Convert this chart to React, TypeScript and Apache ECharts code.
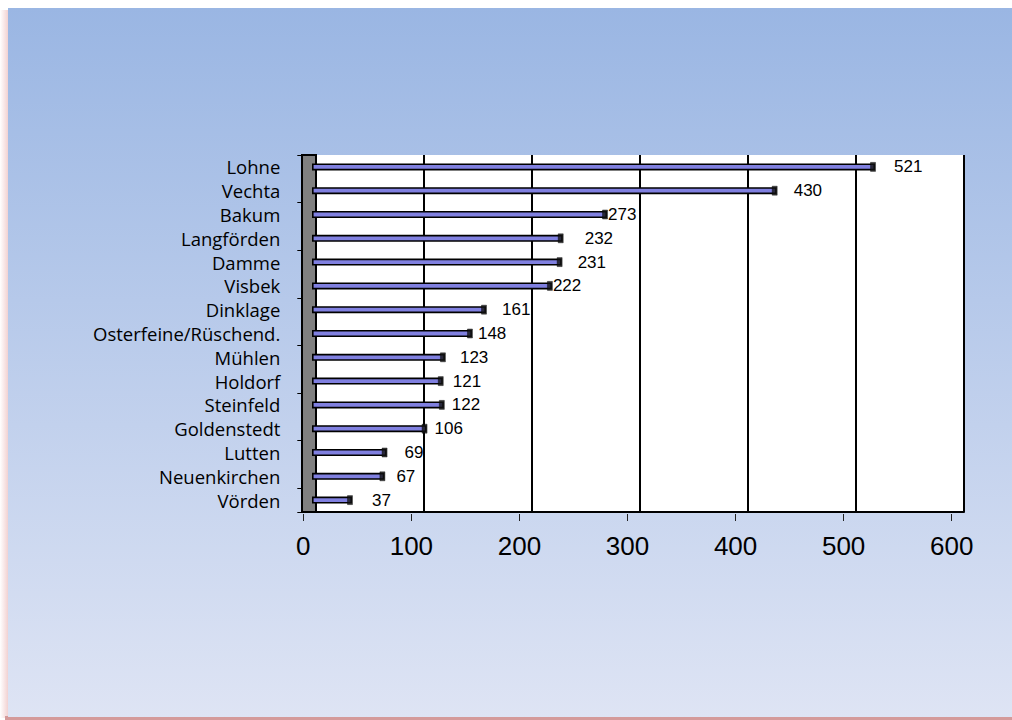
import React, { useEffect, useRef } from "react";
import * as echarts from "echarts";

const categories = [
  "Lohne",
  "Vechta",
  "Bakum",
  "Langförden",
  "Damme",
  "Visbek",
  "Dinklage",
  "Osterfeine/Rüschend.",
  "Mühlen",
  "Holdorf",
  "Steinfeld",
  "Goldenstedt",
  "Lutten",
  "Neuenkirchen",
  "Vörden",
];
const values = [521, 430, 273, 232, 231, 222, 161, 148, 123, 121, 122, 106, 69, 67, 37];
const labelGaps = [19, 17, 1, 22, 16, 1, 16, 6, 15, 10, 8, 8, 18, 12, 20];
const axisMin = 0;
const axisMax = 600;
const axisInterval = 100;

export default function App() {
  const ref = useRef<HTMLDivElement>(null);

  useEffect(() => {
    document.body.style.margin = "0";
    if (!ref.current) return;
    const chart = echarts.init(ref.current, undefined, { renderer: "svg" });

    const valueAxisBase = {
      type: "value" as const,
      min: axisMin,
      max: axisMax,
      interval: axisInterval,
    };

    chart.setOption({
      animation: false,
      backgroundColor: "transparent",
      grid: [
        { left: 316, top: 155, width: 648, height: 357, show: true, backgroundColor: "#ffffff", borderWidth: 0 },
        { left: 312, top: 155, width: 648.4, height: 357 },
        { left: 303.3, top: 155, width: 648.4, height: 357 },
      ],
      xAxis: [
        {
          ...valueAxisBase,
          gridIndex: 0,
          axisLabel: { show: false },
          axisTick: { show: false },
          axisLine: { show: true, lineStyle: { color: "#000", width: 2 } },
          splitLine: { show: true, lineStyle: { color: "#000", width: 2 } },
        },
        {
          ...valueAxisBase,
          gridIndex: 1,
          show: false,
          splitLine: { show: false },
        },
        {
          ...valueAxisBase,
          gridIndex: 2,
          offset: 2,
          axisLine: { show: false },
          axisTick: { show: true, length: 7, lineStyle: { color: "#222", width: 1 } },
          splitLine: { show: false },
          axisLabel: {
            show: true,
            margin: 19,
            fontSize: 26,
            fontFamily: "Liberation Sans",
            color: "#000",
          },
        },
      ],
      yAxis: [
        { type: "category", gridIndex: 0, data: categories, inverse: true, show: false },
        { type: "category", gridIndex: 1, data: categories, inverse: true, show: false },
        {
          type: "category",
          gridIndex: 2,
          data: categories,
          inverse: true,
          axisLine: { show: false },
          axisTick: { show: true, interval: 1, length: 6, lineStyle: { color: "#000", width: 1 } },
          axisLabel: {
            interval: 0,
            margin: 23,
            fontSize: 18.5,
            fontFamily: "Open Sans",
            color: "#000",
          },
        },
      ],
      graphic: [
        {
          type: "rect",
          z: 1,
          shape: { x: 302, y: 155, width: 14, height: 357 },
          style: { fill: "#808080", stroke: "#000", lineWidth: 2 },
        },
      ],
      series: [
        {
          type: "bar",
          xAxisIndex: 1,
          yAxisIndex: 1,
          barWidth: 7,
          z: 3,
          itemStyle: { color: "#8080e0", borderColor: "#000", borderWidth: 1.6 },
          label: {
            show: true,
            position: "right",
            fontSize: 17,
            fontFamily: "Liberation Sans",
            color: "#000",
          },
          data: values.map((v, i) => ({ value: v, label: { distance: labelGaps[i] } })),
        },
        {
          type: "scatter",
          xAxisIndex: 1,
          yAxisIndex: 1,
          symbol: "rect",
          symbolSize: [5, 9],
          symbolOffset: [-2, 0],
          z: 4,
          silent: true,
          itemStyle: { color: "#111", borderColor: "#000", borderWidth: 0.5 },
          data: values.map((v, i) => [v, i]),
        },
      ],
    });

    return () => chart.dispose();
  }, []);

  return (
    <div style={{ position: "relative", width: 1012, height: 720, background: "#fff", overflow: "hidden" }}>
      <div
        style={{
          position: "absolute",
          left: 0,
          top: 10,
          width: 8,
          height: 708,
          background: "linear-gradient(to right, rgba(255,255,255,0), rgba(236,190,190,0.7))",
        }}
      />
      <div
        style={{
          position: "absolute",
          left: 5,
          top: 716,
          width: 1007,
          height: 4,
          background: "#d49a9a",
        }}
      />
      <div
        style={{
          position: "absolute",
          left: 8,
          top: 8,
          width: 1004,
          height: 709,
          background: "linear-gradient(to bottom, #9ab6e3, #dee4f4)",
        }}
      />
      <div ref={ref} style={{ position: "absolute", left: 0, top: 0, width: 1012, height: 720 }} />
    </div>
  );
}
